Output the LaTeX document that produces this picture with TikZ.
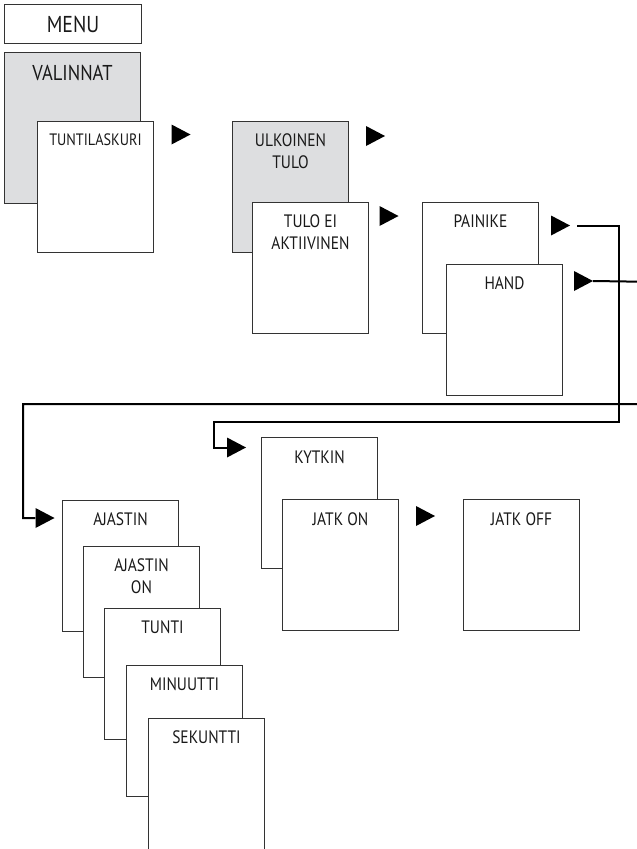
\documentclass[tikz,border=0pt]{standalone}
\usepackage{fontspec}
\setmainfont{PT Sans}[FakeStretch=0.86]
\usetikzlibrary{positioning}
\definecolor{menugray}{RGB}{221,222,224}

\begin{document}
\begin{tikzpicture}[
  x=1pt,
  y=-1pt,
  card/.style={
    rectangle,
    draw=black!80,
    line width=1pt,
    fill=white,
    anchor=north west,
    inner sep=0pt,
    minimum width=116pt,
    minimum height=131pt
  },
  shaded/.style={
    card,
    fill=menugray
  },
  title/.style={
    anchor=north,
    yshift=-12.5pt,
    inner sep=0pt,
    align=center,
    text=black!90,
    font=\fontsize{18}{22}\selectfont
  },
  tri/.style={
    rectangle,
    inner sep=0pt,
    minimum width=19pt,
    minimum height=20pt,
    path picture={
      \fill[black] (path picture bounding box.north west)
        -- (path picture bounding box.east)
        -- (path picture bounding box.south west) -- cycle;
    }
  },
  link/.style={
    line width=2pt,
    draw=black
  }
]

\useasboundingbox (0,0) rectangle (637,849);
\clip (0,0) rectangle (637,849);

% Menu header
\node[draw=black!80, line width=1pt, anchor=north west, inner sep=0pt,
  minimum width=137pt, minimum height=39pt, text=black!90,
  font=\fontsize{23}{28}\selectfont] (menu) at (4,4) {MENU};

% Valinnat / Tuntilaskuri
\node[shaded, minimum width=136pt, minimum height=151pt,
  label={[title, yshift=-0.5pt, font=\fontsize{21.5}{26}\selectfont]north:VALINNAT}] (valinnat) at (4,52) {};
\node[card, label={[title, font=\fontsize{16.5}{20}\selectfont]north:TUNTILASKURI}] (tuntilaskuri) at (37,121) {};
\node[tri] (tri1) at (181,134.5) {};

% Ulkoinen tulo
\node[shaded, label={[title]north:{ULKOINEN\\TULO}}] (ulkoinen) at (232,121) {};
\node[tri] (tri2) at (375.5,136) {};
\node[card, label={[title]north:{TULO EI\\AKTIIVINEN}}] (tuloei) at (252,202) {};
\node[tri] (tri3) at (389,216) {};

% Painike / Hand
\node[card, label={[title]north:PAINIKE}] (painike) at (422,202) {};
\node[tri] (tri4) at (560.5,225.5) {};
\node[card, label={[title]north:HAND}] (hand) at (446,264) {};
\node[tri] (tri5) at (583.5,281) {};

% Kytkin branch
\node[tri] (tri7) at (236.5,447.5) {};
\node[card, label={[title, yshift=-1pt]north:KYTKIN}] (kytkin) at (261,437) {};
\node[card, label={[title, yshift=-1pt]north:JATK ON}] (jatkon) at (282,499) {};
\node[tri] (tri8) at (425.5,516) {};
\node[card, label={[title, yshift=-1pt]north:JATK OFF}] (jatkoff) at (463,499) {};

% Ajastin stack
\node[tri] (tri6) at (45,518) {};
\node[card, label={[title]north:AJASTIN}] (ajastin) at (62,500) {};
\node[card, label={[title]north:{AJASTIN\\ON}}] (ajastinon) at (83,546) {};
\node[card, label={[title]north:TUNTI}] (tunti) at (104,608) {};
\node[card, label={[title]north:MINUUTTI}] (minuutti) at (126,665) {};
\node[card, label={[title]north:SEKUNTTI}] (sekuntti) at (148,718) {};

% Connectors
\coordinate (offpage) at (660,282);
\draw[link] ([xshift=7pt]tri4.east) -| (619,422) -| (214,447.5) -- (tri7.west);
\draw[link] (tri5.east) -- (offpage) |- (23,404) |- (tri6.west);

\end{tikzpicture}
\end{document}
